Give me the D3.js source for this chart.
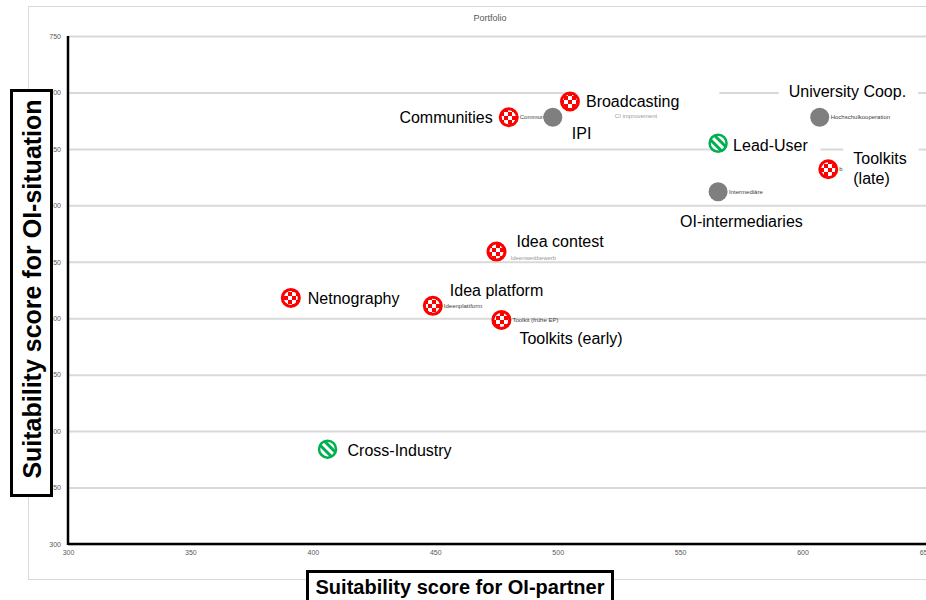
<!DOCTYPE html>
<html>
<head>
<meta charset="utf-8">
<script src="https://cdn.jsdelivr.net/npm/d3@7"></script>
<style>
  body { margin: 0; background: white; }
  text { font-family: "Liberation Sans", Arial, sans-serif; }
</style>
</head>
<body>
<svg width="926" height="600"></svg>
<script>
// OI methods portfolio
var names = ["Communities", "IPI", "Broadcasting", "University Coop.", "Lead-User",
             "Toolkits (late)", "OI-intermediaries", "Idea contest", "Netnography",
             "Idea platform", "Toolkits (early)", "Cross-Industry"];
var partnerScore   = [480, 498, 505, 607, 565.5, 610.5, 565.5, 475, 391, 449, 477, 406];
var situationScore = [678, 678, 692, 678, 655, 632, 612, 559, 518, 511, 498.5, 384];
var kinds = ["red", "gray", "red", "gray", "green", "red", "gray", "red", "red", "red", "red", "green"];
// small german series names shown next to some markers
var smallNames = ["Communities", "CI improvement", "", "Hochschulkooperation", "",
                  "b", "Intermediäre", "Ideenwettbewerb", "", "Ideenplattform",
                  "Toolkit (frühe EP)", ""];
var xTicks = [300, 350, 400, 450, 500, 550, 600, 650];
var yTicks = [300, 350, 400, 450, 500, 550, 600, 650, 700, 750];

// label placement relative to marker: dx, dy, anchor
var labelPos = {
    "Communities":       [-16, 0, "end"],
    "IPI":               [19, 16, "start"],
    "Broadcasting":      [16, 0, "start"],
    "University Coop.":  [-31, -26, "start"],
    "Lead-User":         [15, 2, "start"],
    "Toolkits (late)":   [25, -11, "start"],
    "OI-intermediaries": [-38, 30, "start"],
    "Idea contest":      [20, -10, "start"],
    "Netnography":       [17, 0, "start"],
    "Idea platform":     [17, -15, "start"],
    "Toolkits (early)":  [18, 18, "start"],
    "Cross-Industry":    [20, 1, "start"]
};
var smallPos = {"CI improvement": [62, -1], "Ideenwettbewerb": [14, 6]};
var faint = {"Ideenwettbewerb": true, "CI improvement": true};

var data = names.map(function (n, i) {
    return {name: n, x: partnerScore[i], y: situationScore[i], kind: kinds[i], small: smallNames[i]};
});

var svg = d3.select("svg");

var defs = svg.append("defs");
var chk = defs.append("pattern")
    .attr("id", "checker")
    .attr("patternUnits", "userSpaceOnUse")
    .attr("width", 8).attr("height", 8);
chk.append("rect").attr("width", 8).attr("height", 8).attr("fill", "#ff0000");
chk.append("rect").attr("width", 4).attr("height", 4).attr("fill", "white");
chk.append("rect").attr("x", 4).attr("y", 4).attr("width", 4).attr("height", 4).attr("fill", "white");

var stripes = defs.append("pattern")
    .attr("id", "stripes")
    .attr("patternUnits", "userSpaceOnUse")
    .attr("width", 6).attr("height", 6)
    .attr("patternTransform", "rotate(-45)");
stripes.append("rect").attr("width", 6).attr("height", 6).attr("fill", "white");
stripes.append("rect").attr("width", 3).attr("height", 6).attr("fill", "#00b050");

var margin = {left: 68, top: 36};

var x = d3.scaleLinear().domain([300, 650]).range([margin.left, 925]);
var y = d3.scaleLinear().domain([300, 750]).range([544, margin.top]);

// outer chart area border
svg.append("rect")
    .attr("x", 28.5).attr("y", 6.5)
    .attr("width", 930).attr("height", 573)
    .attr("fill", "white")
    .attr("stroke", "#d9d9d9");

svg.append("text")
    .attr("x", 490).attr("y", 21)
    .attr("text-anchor", "middle")
    .style("font-size", "9px")
    .style("fill", "#595959")
    .text("Portfolio");

// gridlines + tick labels
var yAxis = d3.axisLeft(y).tickValues(yTicks).tickSize(-(926 - margin.left)).tickPadding(7);
var gy = svg.append("g")
    .attr("transform", "translate(" + margin.left + ",0)")
    .call(yAxis);
gy.select(".domain").remove();
gy.selectAll(".tick line").attr("stroke", "#d9d9d9").attr("stroke-width", 2);
gy.selectAll(".tick text").style("font-size", "7px").style("fill", "#595959")
    .style("font-family", "'Liberation Sans', Arial, sans-serif");

var xAxis = d3.axisBottom(x).tickValues(xTicks).tickSize(0).tickPadding(6);
var gx = svg.append("g")
    .attr("transform", "translate(0,544)")
    .call(xAxis);
gx.select(".domain").remove();
gx.selectAll(".tick text").style("font-size", "7px").style("fill", "#595959")
    .style("font-family", "'Liberation Sans', Arial, sans-serif");

// axis lines
svg.append("line")
    .attr("x1", margin.left).attr("x2", margin.left)
    .attr("y1", y(750)).attr("y2", y(300) + 1)
    .attr("stroke", "black").attr("stroke-width", 2.5);
svg.append("line")
    .attr("x1", margin.left).attr("x2", 926)
    .attr("y1", y(300)).attr("y2", y(300))
    .attr("stroke", "black").attr("stroke-width", 2.5);

// small labels
svg.append("g").selectAll("text")
    .data(data.filter(function (d) { return d.small; }))
    .enter().append("text")
    .attr("x", function (d) { return x(d.x) + (smallPos[d.small] ? smallPos[d.small][0] : 11); })
    .attr("y", function (d) { return y(d.y) + (smallPos[d.small] ? smallPos[d.small][1] : 0); })
    .attr("dy", "0.35em")
    .style("font-size", "6px")
    .style("fill", function (d) { return faint[d.small] ? "#9a9a9a" : "#404040"; })
    .text(function (d) { return d.small; });

// big labels with white boxes
var lab = svg.append("g").selectAll("g")
    .data(data)
    .enter().append("g")
    .attr("transform", function (d) {
        var p = labelPos[d.name];
        return "translate(" + (x(d.x) + p[0]) + "," + (y(d.y) + p[1]) + ")";
    });

lab.each(function (d) {
    var g = d3.select(this);
    var p = labelPos[d.name];
    var lines = d.name === "Toolkits (late)" ? ["Toolkits", "(late)"] : [d.name];
    var box = g.append("rect").attr("fill", "white");
    var t = g.append("text")
        .attr("text-anchor", p[2])
        .style("font-size", "16px")
        .style("fill", "#000");
    lines.forEach(function (l, i) {
        t.append("tspan").attr("x", 0).attr("y", i * 20).attr("dy", "0.35em").text(l);
    });
    var bb = t.node().getBBox();
    var padR = d.name === "Broadcasting" ? 40 : 12;
    box.attr("x", bb.x - 10).attr("y", bb.y - 2)
        .attr("width", bb.width + 10 + padR).attr("height", bb.height + 4);
});

// markers
var mk = svg.append("g").selectAll("circle")
    .data(data)
    .enter().append("circle")
    .attr("cx", function (d) { return x(d.x); })
    .attr("cy", function (d) { return y(d.y); });

mk.filter(function (d) { return d.kind === "red"; })
    .attr("r", 8.5)
    .attr("fill", "url(#checker)")
    .attr("stroke", "#ff0000")
    .attr("stroke-width", 3);
mk.filter(function (d) { return d.kind === "green"; })
    .attr("r", 8.5)
    .attr("fill", "url(#stripes)")
    .attr("stroke", "#00b050")
    .attr("stroke-width", 2.5);
mk.filter(function (d) { return d.kind === "gray"; })
    .attr("r", 9.5)
    .attr("fill", "#7f7f7f");

// axis title boxes
svg.append("rect")
    .attr("x", 11.5).attr("y", 90.5)
    .attr("width", 40).attr("height", 405)
    .attr("fill", "white").attr("stroke", "black").attr("stroke-width", 3);
svg.append("text")
    .attr("transform", "translate(41,289) rotate(-90)")
    .attr("text-anchor", "middle")
    .style("font-size", "25px")
    .style("font-weight", "bold")
    .text("Suitability score for OI-situation");

svg.append("rect")
    .attr("x", 307.5).attr("y", 571.5)
    .attr("width", 305).attr("height", 40)
    .attr("fill", "white").attr("stroke", "black").attr("stroke-width", 3);
svg.append("text")
    .attr("x", 460).attr("y", 594)
    .attr("text-anchor", "middle")
    .style("font-size", "20px")
    .style("font-weight", "bold")
    .text("Suitability score for OI-partner");
</script>
</body>
</html>
